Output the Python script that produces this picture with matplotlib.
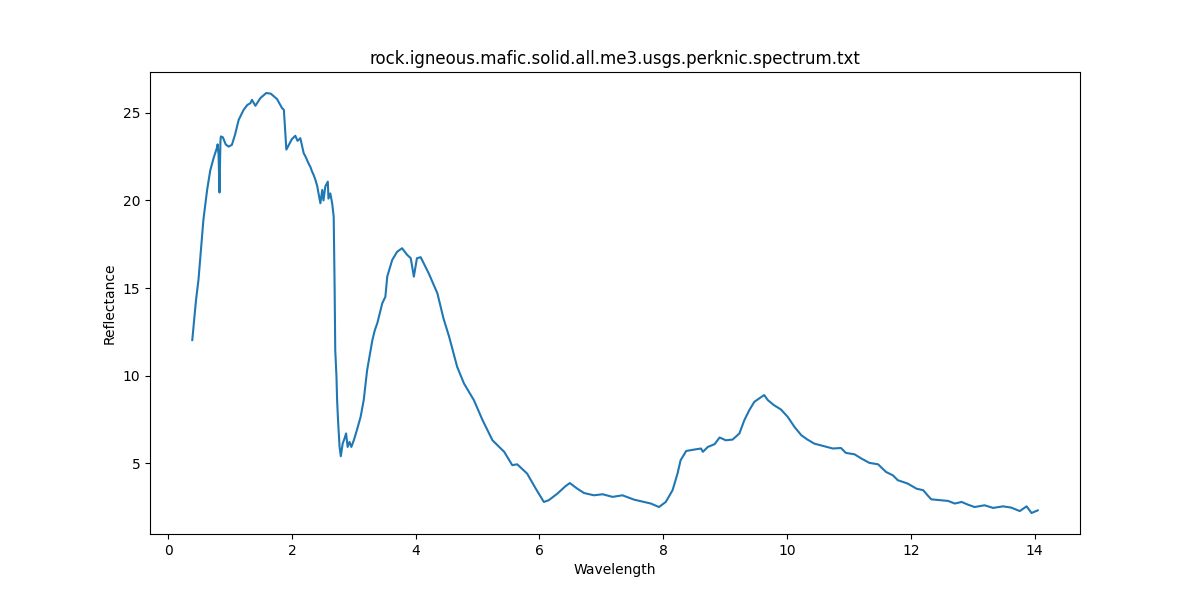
import matplotlib
matplotlib.use("Agg")
import matplotlib.pyplot as plt

wavelength = [
    0.39, 0.45, 0.49, 0.57, 0.63, 0.68, 0.733, 0.788, 0.80, 0.815, 0.83, 0.845, 0.853, 0.885,
    0.93, 0.976, 1.03, 1.08, 1.14, 1.22, 1.28, 1.33, 1.354, 1.41, 1.49, 1.586, 1.66,
    1.76, 1.84, 1.87, 1.89, 1.91, 1.95, 2.0, 2.055, 2.09, 2.136, 2.19, 2.22, 2.27,
    2.30, 2.325, 2.35, 2.38, 2.41, 2.43, 2.46, 2.49, 2.51, 2.54, 2.58, 2.59, 2.62,
    2.65, 2.675, 2.69, 2.70, 2.72, 2.73, 2.745, 2.77, 2.79, 2.82, 2.85, 2.875, 2.90,
    2.93, 2.96, 3.00, 3.05, 3.11, 3.16, 3.215, 3.30, 3.34, 3.38, 3.46, 3.51, 3.54,
    3.62, 3.70, 3.78, 3.86, 3.92, 3.97, 4.02, 4.08, 4.21, 4.35, 4.45, 4.54, 4.67,
    4.78, 4.94, 5.08, 5.24, 5.43, 5.56, 5.64, 5.80, 5.94, 6.07, 6.15, 6.29, 6.42,
    6.49, 6.61, 6.72, 6.88, 7.02, 7.18, 7.34, 7.53, 7.69, 7.80, 7.93, 8.04, 8.15,
    8.23, 8.28, 8.37, 8.50, 8.61, 8.64, 8.72, 8.83, 8.91, 9.01, 9.12, 9.23, 9.31,
    9.39, 9.47, 9.55, 9.63, 9.69, 9.79, 9.90, 10.01, 10.12, 10.23, 10.33, 10.44,
    10.60, 10.74, 10.87, 10.95, 11.09, 11.20, 11.33, 11.47, 11.60, 11.71, 11.79,
    11.95, 12.09, 12.20, 12.27, 12.33, 12.49, 12.60, 12.71, 12.82, 12.92, 13.03,
    13.19, 13.33, 13.49, 13.62, 13.76, 13.87, 13.95, 14.05,
]
reflectance = [
    12.03, 14.3, 15.46, 18.9, 20.6, 21.7, 22.4, 23.0, 23.2, 22.6, 20.45, 23.4, 23.65, 23.6,
    23.2, 23.07, 23.17, 23.74, 24.6, 25.17, 25.45, 25.55, 25.74, 25.4, 25.84, 26.13, 26.09,
    25.78, 25.27, 25.17, 24.0, 22.9, 23.17, 23.5, 23.69, 23.4, 23.55, 22.7, 22.5, 22.1,
    21.9, 21.65, 21.46, 21.17, 20.8, 20.4, 19.84, 20.6, 20.0, 20.8, 21.07, 20.1, 20.4,
    19.84, 19.07, 15.0, 11.46, 9.93, 8.6, 7.46, 5.93, 5.4, 6.12, 6.41, 6.7, 5.93,
    6.22, 5.93, 6.31, 6.89, 7.65, 8.6, 10.31, 12.03, 12.6, 13.0, 14.13, 14.5, 15.65,
    16.6, 17.07, 17.27, 16.9, 16.7, 15.65, 16.7, 16.76, 15.84, 14.7, 13.25, 12.22, 10.5,
    9.55, 8.6, 7.46, 6.31, 5.65, 4.89, 4.94, 4.41, 3.55, 2.79, 2.89, 3.27, 3.69,
    3.87, 3.55, 3.30, 3.17, 3.23, 3.08, 3.17, 2.92, 2.79, 2.7, 2.50, 2.79, 3.46,
    4.41, 5.17, 5.7, 5.78, 5.84, 5.65, 5.93, 6.09, 6.47, 6.31, 6.35, 6.70, 7.46,
    8.03, 8.5, 8.70, 8.89, 8.6, 8.31, 8.07, 7.65, 7.07, 6.6, 6.35, 6.12,
    5.97, 5.84, 5.87, 5.59, 5.51, 5.27, 5.02, 4.94, 4.50, 4.31, 4.03,
    3.84, 3.55, 3.46, 3.17, 2.94, 2.89, 2.85, 2.70, 2.79, 2.64, 2.50,
    2.60, 2.45, 2.54, 2.47, 2.27, 2.54, 2.16, 2.31,
]

title = "rock.igneous.mafic.solid.all.me3.usgs.perknic.spectrum.txt"

fig, ax = plt.subplots(figsize=(12, 6), dpi=100)
ax.plot(wavelength, reflectance)
ax.set_title(title)
ax.set_xlabel("Wavelength")
ax.set_ylabel("Reflectance")
fig.savefig("out.png", dpi=100)
